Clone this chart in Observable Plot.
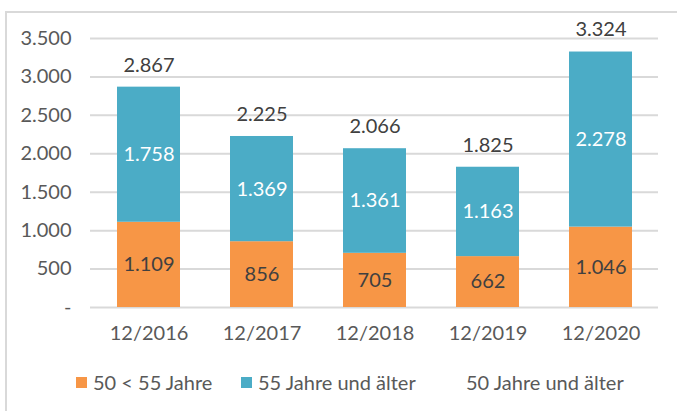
<!DOCTYPE html>
<html>
<head>
<meta charset="utf-8">
<script src="https://cdn.jsdelivr.net/npm/d3@7"></script>
<script src="https://cdn.jsdelivr.net/npm/@observablehq/plot@0.6"></script>
<style>
  html, body { margin: 0; padding: 0; background: #fff; }
  body { width: 677px; height: 411px; position: relative; overflow: hidden; font-family: Lato, "Open Sans", sans-serif; }
  #frame { position: absolute; left: 5px; top: 11px; width: 690px; height: 420px; border: 2px solid #d9d9d9; box-sizing: border-box; }
  #chart { position: absolute; left: 0; top: 0; }
  #legend { position: absolute; top: 370px; left: 0; width: 677px; height: 24px; font-size: 20px; color: #595959; }
  .item { position: absolute; top: 0; display: flex; align-items: center; height: 24px; }
  .sw { width: 11px; height: 11px; margin-right: 6px; }
</style>
</head>
<body>
<div id="frame"></div>
<div id="chart"></div>
<div id="legend"></div>
<script>
const categories = ["12/2016", "12/2017", "12/2018", "12/2019", "12/2020"];
const under55 = [1109, 856, 705, 662, 1046];
const over55 = [1758, 1369, 1361, 1163, 2278];
const total = [2867, 2225, 2066, 1825, 3324];
const seriesNames = ["50 < 55 Jahre", "55 Jahre und älter", "50 Jahre und älter"];
const yTicks = [0, 500, 1000, 1500, 2000, 2500, 3000, 3500];

const colors = {"50 < 55 Jahre": "#F79646", "55 Jahre und älter": "#4BACC6"};
const de = d3.formatLocale({decimal: ",", thousands: ".", grouping: [3], currency: ["", "€"]});
const fmt = de.format(",d");

const rows = [];
categories.forEach((c, i) => {
  rows.push({cat: c, series: seriesNames[0], value: under55[i], order: 0});
  rows.push({cat: c, series: seriesNames[1], value: over55[i], order: 1});
});
const totals = categories.map((c, i) => ({cat: c, value: total[i]}));

const plot = Plot.plot({
  width: 677,
  height: 360,
  marginLeft: 90,
  marginRight: 19,
  marginTop: 38,
  marginBottom: 53,
  style: {fontFamily: "Lato, 'Open Sans', sans-serif", fontSize: "20px", background: "transparent"},
  x: {domain: categories, paddingInner: 0.445, paddingOuter: 0.229, label: null},
  y: {domain: [0, 3500], label: null},
  marks: [
    Plot.gridY(yTicks, {stroke: "#d9d9d9", strokeOpacity: 1, strokeWidth: 2}),
    Plot.axisY({ticks: yTicks, tickSize: 0, tickPadding: 19, tickFormat: d => d === 0 ? "-" : fmt(d), fill: "#595959", label: null, fontSize: 20}),
    Plot.axisX({tickSize: 0, tickPadding: 18, fill: "#595959", label: null, fontSize: 20}),
    Plot.barY(rows, Plot.stackY({x: "cat", y: "value", fill: d => colors[d.series], order: "order"})),
    Plot.text(rows, Plot.stackY({x: "cat", y: "value", order: "order", text: d => fmt(d.value), fill: d => d.order === 0 ? "#404040" : "#ffffff", fontSize: 20})),
    Plot.text(totals, {x: "cat", y: "value", text: d => fmt(d.value), dy: -22, fill: "#404040", fontSize: 20})
  ]
});
document.getElementById("chart").appendChild(plot);

const legend = document.getElementById("legend");
const legendItems = [
  {name: seriesNames[0], color: colors[seriesNames[0]], left: 76},
  {name: seriesNames[1], color: colors[seriesNames[1]], left: 241},
  {name: seriesNames[2], color: null, left: 466}
];
legendItems.forEach(it => {
  const div = document.createElement("div");
  div.className = "item";
  div.style.left = it.left + "px";
  if (it.color) {
    const sw = document.createElement("span");
    sw.className = "sw";
    sw.style.background = it.color;
    div.appendChild(sw);
  }
  const t = document.createElement("span");
  t.textContent = it.name;
  div.appendChild(t);
  legend.appendChild(div);
});
</script>
</body>
</html>
